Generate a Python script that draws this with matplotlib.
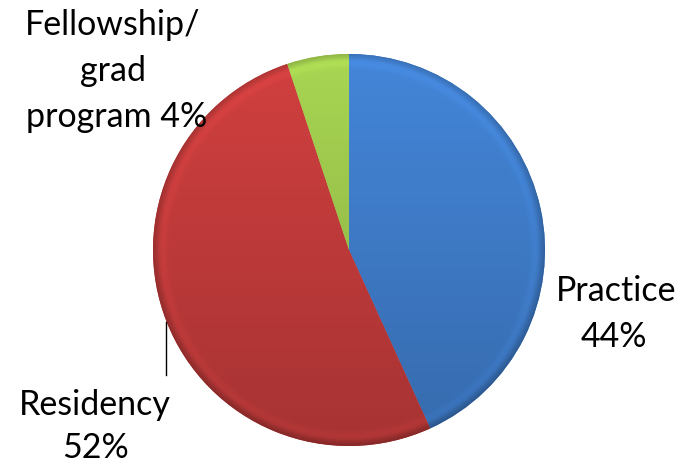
import numpy as np
import matplotlib.pyplot as plt
from matplotlib.colors import to_rgb

# data
categories = ['Practice', 'Residency', 'Fellowship/grad program']
shares = [43.2, 51.7, 5.1]
colors = ['#3f7cc9', '#c23b3b', '#9cc64c']

plt.rcParams['font.family'] = ['Lato', 'DejaVu Sans']

fig = plt.figure(figsize=(6.92, 4.65), dpi=100)
ax = fig.add_axes([0, 0, 1, 1])

cx, cy, R = 349, 465 - 250, 196

wedges, _ = ax.pie(shares, colors=colors, startangle=90, counterclock=False,
                   center=(cx, cy), radius=R, frame=True,
                   wedgeprops=dict(linewidth=0))
ax.set_xlim(0, 692)
ax.set_ylim(0, 465)
ax.set_aspect('equal')
ax.axis('off')

# shaded fill, clipped to each wedge
n = 400
xs = np.linspace(cx - R, cx + R, n)
ys = np.linspace(cy + R, cy - R, n)
X, Y = np.meshgrid(xs, ys)
rr = np.hypot(X - cx, Y - cy) / R
t = (cy + R - Y) / (2 * R)          # 0 at top, 1 at bottom
shade = 1.08 - 0.22 * t
shade = shade - 0.18 * np.clip((rr - 0.965) / 0.035, 0, 1)
shade = shade + 0.05 * np.exp(-((rr - 0.95) / 0.02) ** 2)

for w, c in zip(wedges, colors):
    base = np.array(to_rgb(c))
    img = np.clip(base[None, None, :] * shade[..., None], 0, 1)
    im = ax.imshow(img, extent=(cx - R, cx + R, cy - R, cy + R),
                   origin='upper', interpolation='bilinear', zorder=2)
    im.set_clip_path(w)

fs = 24.5
ax.text(616, 465 - 301, 'Practice', ha='center', va='baseline', fontsize=fs)
ax.text(614, 465 - 347, '44%', ha='center', va='baseline', fontsize=fs)
ax.text(95, 465 - 415, 'Residency', ha='center', va='baseline', fontsize=fs)
ax.text(95, 465 - 458, '52%', ha='center', va='baseline', fontsize=fs)
ax.text(113, 465 - 35, 'Fellowship/', ha='center', va='baseline', fontsize=fs)
ax.text(113, 465 - 81, 'grad', ha='center', va='baseline', fontsize=fs)
ax.text(117, 465 - 127, 'program 4%', ha='center', va='baseline', fontsize=fs)

# leader line for Residency
ax.plot([166, 166], [465 - 322, 465 - 375], color='black', lw=1, zorder=3)

fig.savefig('out.png', dpi=100)
